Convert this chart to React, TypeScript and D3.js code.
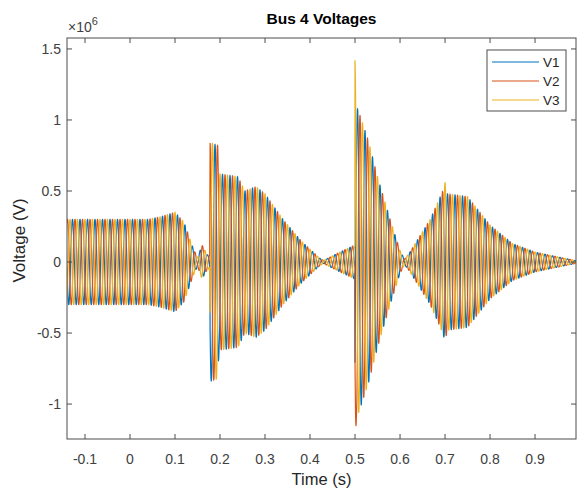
import React from 'react';
import * as d3 from 'd3';

// envelope of the three-phase voltage (time in s, amplitude in units of 1e6 V)
const envTime = [-0.14, 0.04, 0.07, 0.1, 0.12, 0.14, 0.15, 0.16, 0.172, 0.177, 0.178, 0.195, 0.198, 0.24, 0.255, 0.28, 0.3, 0.34, 0.38, 0.42, 0.43, 0.46, 0.4995, 0.5, 0.503, 0.507, 0.53, 0.55, 0.578, 0.6, 0.61, 0.62, 0.667, 0.695, 0.7, 0.705, 0.75, 0.8, 0.85, 0.9, 0.99];
const envAmp = [0.3, 0.3, 0.32, 0.35, 0.28, 0.1, 0.03, 0.12, 0.05, 0.05, 0.84, 0.82, 0.62, 0.6, 0.5, 0.53, 0.48, 0.3, 0.15, 0.03, 0.01, 0.06, 0.12, 1.42, 1.09, 1.07, 0.85, 0.6, 0.3, 0.08, 0.02, 0.06, 0.3, 0.5, 0.56, 0.48, 0.46, 0.26, 0.13, 0.07, 0.01];

const seriesNames = ['V1', 'V2', 'V3'];
const phaseDeg = [0, -120, 120];
const colors = ['#0072BD', '#D95319', '#EDB120'];
const FREQ = 60;
const PHASE0 = -Math.PI / 6;

const xTicks = [-0.1, 0, 0.1, 0.2, 0.3, 0.4, 0.5, 0.6, 0.7, 0.8, 0.9];
const yTicks = [-1, -0.5, 0, 0.5, 1, 1.5];

const W = 577, H = 489;
const left = 67, right = 576, top = 38, bottom = 439;
const font = '"Liberation Sans", Arial, sans-serif';
const axisColor = '#4d4d4d';

export default function App() {
  const x = d3.scaleLinear().domain([-0.14, 0.991]).range([left, right]);
  const y = d3.scaleLinear().domain([-1.246, 1.577]).range([bottom, top]);
  const env = d3.scaleLinear().domain(envTime).range(envAmp).clamp(true);

  const times = d3.range(-0.14, 0.992, 0.0001);
  const line = d3.line<[number, number]>().x(d => x(d[0])).y(d => y(d[1]));

  const paths = seriesNames.map((name, i) => {
    const ph = PHASE0 + (phaseDeg[i] * Math.PI) / 180;
    const pts: [number, number][] = times.map(t => [t, env(t) * Math.sin(2 * Math.PI * FREQ * t + ph)]);
    return line(pts) || '';
  });

  const tick = 5;
  return (
    <svg width={W} height={H} style={{ position: 'absolute', left: 0, top: 0, background: '#fff' }} fontFamily={font}>
      <defs>
        <clipPath id="plot">
          <rect x={left} y={top} width={right - left} height={bottom - top} />
        </clipPath>
      </defs>
      <rect x={0} y={0} width={W} height={H} fill="#fff" />
      <g clipPath="url(#plot)">
        {paths.map((d, i) => (
          <path key={seriesNames[i]} d={d} fill="none" stroke={colors[i]} strokeWidth={1.2} />
        ))}
      </g>
      {/* axes box */}
      <rect x={left} y={top} width={right - left} height={bottom - top} fill="none" stroke={axisColor} strokeWidth={1} />
      {xTicks.map(t => (
        <g key={'x' + t}>
          <line x1={x(t)} x2={x(t)} y1={bottom} y2={bottom - tick} stroke={axisColor} />
          <line x1={x(t)} x2={x(t)} y1={top} y2={top + tick} stroke={axisColor} />
          <text x={x(t)} y={464} textAnchor="middle" fontSize={14} fill="#404040">{String(t)}</text>
        </g>
      ))}
      {yTicks.map(v => (
        <g key={'y' + v}>
          <line x1={left} x2={left + tick} y1={y(v)} y2={y(v)} stroke={axisColor} />
          <line x1={right} x2={right - tick} y1={y(v)} y2={y(v)} stroke={axisColor} />
          <text x={61} y={y(v) + 5} textAnchor="end" fontSize={14} fill="#404040">{String(v)}</text>
        </g>
      ))}
      <text x={68} y={32} fontSize={14} fill="#404040">
        ×10<tspan dy={-7} fontSize={11}>6</tspan>
      </text>
      <text x={(left + right) / 2} y={24} textAnchor="middle" fontSize={15.5} fontWeight="bold" fill="#000">Bus 4 Voltages</text>
      <text x={(left + right) / 2} y={485} textAnchor="middle" fontSize={16.5} fill="#262626">Time (s)</text>
      <text transform={`translate(25,${(top + bottom) / 2 + 2}) rotate(-90)`} textAnchor="middle" fontSize={17} fill="#262626">Voltage (V)</text>
      {/* legend */}
      <g>
        <rect x={487} y={50} width={79} height={61} fill="#fff" stroke={axisColor} strokeWidth={1} />
        {seriesNames.map((name, i) => (
          <g key={name}>
            <line x1={492} x2={539} y1={62 + i * 19} y2={62 + i * 19} stroke={colors[i]} strokeWidth={1.2} />
            <text x={543} y={62 + i * 19 + 5} fontSize={13.5} fill="#262626">{name}</text>
          </g>
        ))}
      </g>
    </svg>
  );
}
